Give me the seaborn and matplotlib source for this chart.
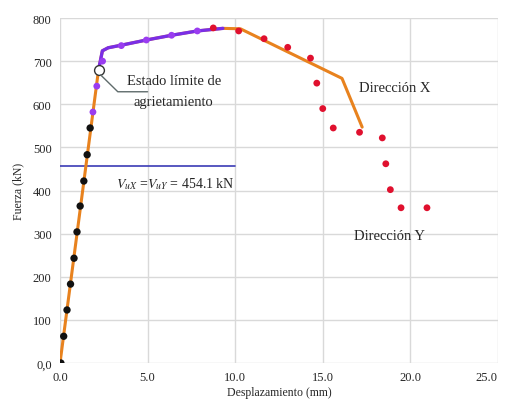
import matplotlib
matplotlib.use("Agg")
import matplotlib.pyplot as plt
import seaborn as sns

# Data
orange_x = [0.0, 2.2, 2.42, 2.75, 3.5, 4.93, 6.37, 7.84, 9.3, 10.3, 16.1, 17.25]
orange_y = [0, 680, 724, 731, 737, 749, 760, 770, 776, 775, 660, 547]
purple_line_x = [2.2, 2.42, 2.75, 3.5, 4.93, 6.37, 7.84, 9.3]
purple_line_y = [680, 724, 731, 737, 749, 760, 770, 776]
black_x = [0.05, 0.21, 0.4, 0.6, 0.8, 0.97, 1.15, 1.36, 1.55, 1.72]
black_y = [0, 62, 123, 183, 243, 304, 364, 422, 483, 545]
purple_x = [1.88, 2.1, 2.43, 3.5, 4.93, 6.37, 7.84]
purple_y = [582, 642, 700, 736, 749, 760, 770]
red_x = [8.75, 10.2, 11.65, 13.0, 14.3, 14.66, 15.0, 15.6, 17.1, 18.4, 18.6, 18.86, 19.47, 20.95]
red_y = [777, 770, 752, 732, 707, 649, 590, 545, 535, 522, 462, 402, 360, 360]
vu_x = [0.0, 10.0]
vu_y = [458, 458]
crack_x = [2.22]
crack_y = [680]
xticks = [0, 5, 10, 15, 20, 25]
xticklabels = ["0.0", "5.0", "10.0", "15.0", "20.0", "25.0"]
yticks = [0, 100, 200, 300, 400, 500, 600, 700, 800]
yticklabels = ["0,0", "100", "200", "300", "400", "500", "600", "700", "800"]

sns.set_style("whitegrid", {"grid.color": "#d9d9d9"})
plt.rcParams['font.family'] = ['Liberation Serif', 'DejaVu Serif']

fig = plt.figure(figsize=(5.06, 4.02), dpi=100)
ax = fig.add_axes([0.1186, 0.0945, 0.8654, 0.8582])

sns.lineplot(x=vu_x, y=vu_y, ax=ax, color="#3b3bb5", lw=1.2, zorder=2)
sns.lineplot(x=orange_x, y=orange_y, ax=ax, color="#e8821e", lw=2.2, zorder=3, sort=False)
sns.lineplot(x=purple_line_x, y=purple_line_y, ax=ax, color="#7a2ee6", lw=2.4, zorder=4, sort=False)
sns.scatterplot(x=black_x, y=black_y, ax=ax, color="#111111", s=28, edgecolor="none", zorder=5)
sns.scatterplot(x=purple_x, y=purple_y, ax=ax, color="#9a3cf0", s=24, edgecolor="none", zorder=5)
sns.scatterplot(x=red_x, y=red_y, ax=ax, color="#e0102e", s=24, edgecolor="none", zorder=5)
sns.scatterplot(x=crack_x, y=crack_y, ax=ax, color="white", s=50, edgecolor="#333333", linewidth=1.0, zorder=6)

# annotation pointer
ax.plot([2.32, 3.3, 5.0], [668, 629, 629], color="#5f6b6b", lw=1.0, zorder=6)
ax.text(6.5, 654, "Estado límite de", ha="center", va="center", fontsize=10.5, zorder=7)
ax.text(6.5, 606, "agrietamiento", ha="center", va="center", fontsize=10.5, zorder=7)
ax.text(6.6, 418, r"$V_{uX}$ =$V_{uY}$ = 454.1 kN", ha="center", va="center", fontsize=10, zorder=7,
        math_fontfamily="stix")
ax.text(19.1, 640, "Dirección X", ha="center", va="center", fontsize=10.5)
ax.text(18.8, 296, "Dirección Y", ha="center", va="center", fontsize=10.5)

ax.set_xlim(0, 25)
ax.set_ylim(0, 800)
ax.set_xticks(xticks)
ax.set_xticklabels(xticklabels, fontsize=9)
ax.get_xticklabels()[-1].set_horizontalalignment("right")
ax.set_yticks(yticks)
ax.set_yticklabels(yticklabels, fontsize=9)
ax.tick_params(axis="both", length=0, pad=6)
ax.set_xlabel("Desplazamiento (mm)", fontsize=8.5, labelpad=2)
ax.set_ylabel("Fuerza (kN)", fontsize=8.5, labelpad=6)
for s in ax.spines.values():
    s.set_visible(False)
ax.grid(True, color="#d9d9d9", lw=1.0)
ax.set_axisbelow(True)
if ax.get_legend():
    ax.get_legend().remove()

fig.savefig("out.png", dpi=100)
